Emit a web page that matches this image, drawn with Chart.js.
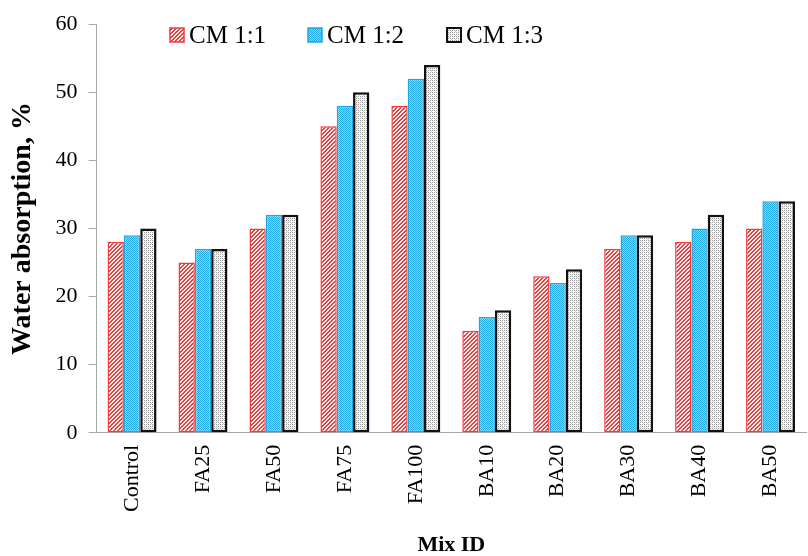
<!DOCTYPE html>
<html>
<head>
<meta charset="utf-8">
<script src="https://cdn.jsdelivr.net/npm/chart.js@4/dist/chart.umd.min.js"></script>
<style>
html,body{margin:0;padding:0;background:#fff;}
#wrap{width:808px;height:556px;}
</style>
</head>
<body>
<div id="wrap"><canvas id="c" width="808" height="556"></canvas></div>
<script>
const categories = ["Control","FA25","FA50","FA75","FA100","BA10","BA20","BA30","BA40","BA50"];
const seriesNames = ["CM 1:1","CM 1:2","CM 1:3"];
const cm11 = [28,25,30,45,48,15,23,27,28,30];
const cm12 = [29,27,32,48,52,17,22,29,30,34];
const cm13 = [30,27,32,50,54,18,24,29,32,34];
const yTicks = [0,10,20,30,40,50,60];

const FONT = "'Liberation Serif','Times New Roman',serif";

function makePattern(kind){
  const c = document.createElement('canvas');
  const s = 4;
  c.width = s; c.height = s;
  const g = c.getContext('2d');
  g.fillStyle = '#fff'; g.fillRect(0,0,s,s);
  if(kind==='red'){
    g.fillStyle = '#f23a3a';
    for(let i=0;i<s;i++){
      g.fillRect((s-1-i)%s, i, 1, 1);
      g.fillRect((s-i)%s, i, 1, 1);
    }
  } else if(kind==='blue'){
    g.fillStyle = '#8fd6f2'; g.fillRect(0,0,s,s);
    g.fillStyle = '#1ea6de';
    for(let i=0;i<s;i++){ g.fillRect(i, i, 1, 1); g.fillRect((i+2)%s, i, 1, 1); }
  } else {
    g.fillStyle = '#ffffff'; g.fillRect(0,0,s,s);
    g.fillStyle = '#9a9a9a';
    g.fillRect(0,0,1,1); g.fillRect(2,2,1,1); g.fillRect(2,0,1,1); g.fillRect(0,2,1,1);
    g.fillStyle = '#cfcfcf';
    g.fillRect(1,1,1,1); g.fillRect(3,3,1,1);
  }
  return document.createElement('canvas').getContext('2d').createPattern(c,'repeat');
}

const fills = [makePattern('red'), makePattern('blue'), makePattern('gray')];
const borders = ['#f23a3a','#1ea6de','#111111'];
const bwidths = [1.5,1.5,2.5];
const seriesData = [cm11, cm12, cm13];

const legendPlugin = {
  id:'customLegend',
  afterDraw(chart){
    const ctx = chart.ctx;
    const xs = [170, 308, 447];
    const y = 35;
    ctx.save();
    chart.data.datasets.forEach((ds,i)=>{
      const x = xs[i];
      ctx.fillStyle = ds.backgroundColor;
      ctx.fillRect(x, y-7, 14, 14);
      ctx.strokeStyle = ds.borderColor;
      ctx.lineWidth = i===2 ? 2 : 1.5;
      ctx.strokeRect(x, y-7, 14, 14);
      ctx.fillStyle = '#000';
      ctx.font = "25px " + FONT;
      ctx.textBaseline = 'middle';
      ctx.textAlign = 'left';
      ctx.fillText(ds.label, x+19, y+1);
    });
    ctx.restore();
  }
};

new Chart(document.getElementById('c'), {
  type:'bar',
  data:{
    labels: categories,
    datasets: seriesNames.map((n,i)=>({
      label:n,
      data: seriesData[i],
      backgroundColor: fills[i],
      borderColor: borders[i],
      borderWidth: bwidths[i],
      borderSkipped: false,
      categoryPercentage: 0.69,
      barPercentage: 1.0
    }))
  },
  options:{
    responsive:false,
    animation:false,
    devicePixelRatio:1,
    layout:{padding:{top:12,right:2,left:4,bottom:0}},
    plugins:{legend:{display:false}, tooltip:{enabled:false}},
    scales:{
      x:{
        grid:{display:false},
        border:{display:true,color:'#a6a6a6',width:1},
        ticks:{
          color:'#000',
          font:{family:FONT,size:22},
          minRotation:90,maxRotation:90,
          padding:4
        },
        title:{display:true,text:'Mix ID',color:'#000',font:{family:FONT,size:22,weight:'bold',lineHeight:1},padding:{top:18,bottom:0}}
      },
      y:{
        min:0,max:60,
        afterBuildTicks(axis){ axis.ticks = yTicks.map(v=>({value:v})); },
        grid:{display:true,drawOnChartArea:false,drawTicks:true,tickLength:8,color:'#a6a6a6'},
        border:{display:true,color:'#a6a6a6',width:1},
        ticks:{color:'#000',font:{family:FONT,size:22},padding:11},
        title:{display:true,text:'Water absorption, %',color:'#000',font:{family:FONT,size:28,weight:'bold'},padding:{top:2,bottom:5}}
      }
    }
  },
  plugins:[legendPlugin]
});
</script>
</body>
</html>
